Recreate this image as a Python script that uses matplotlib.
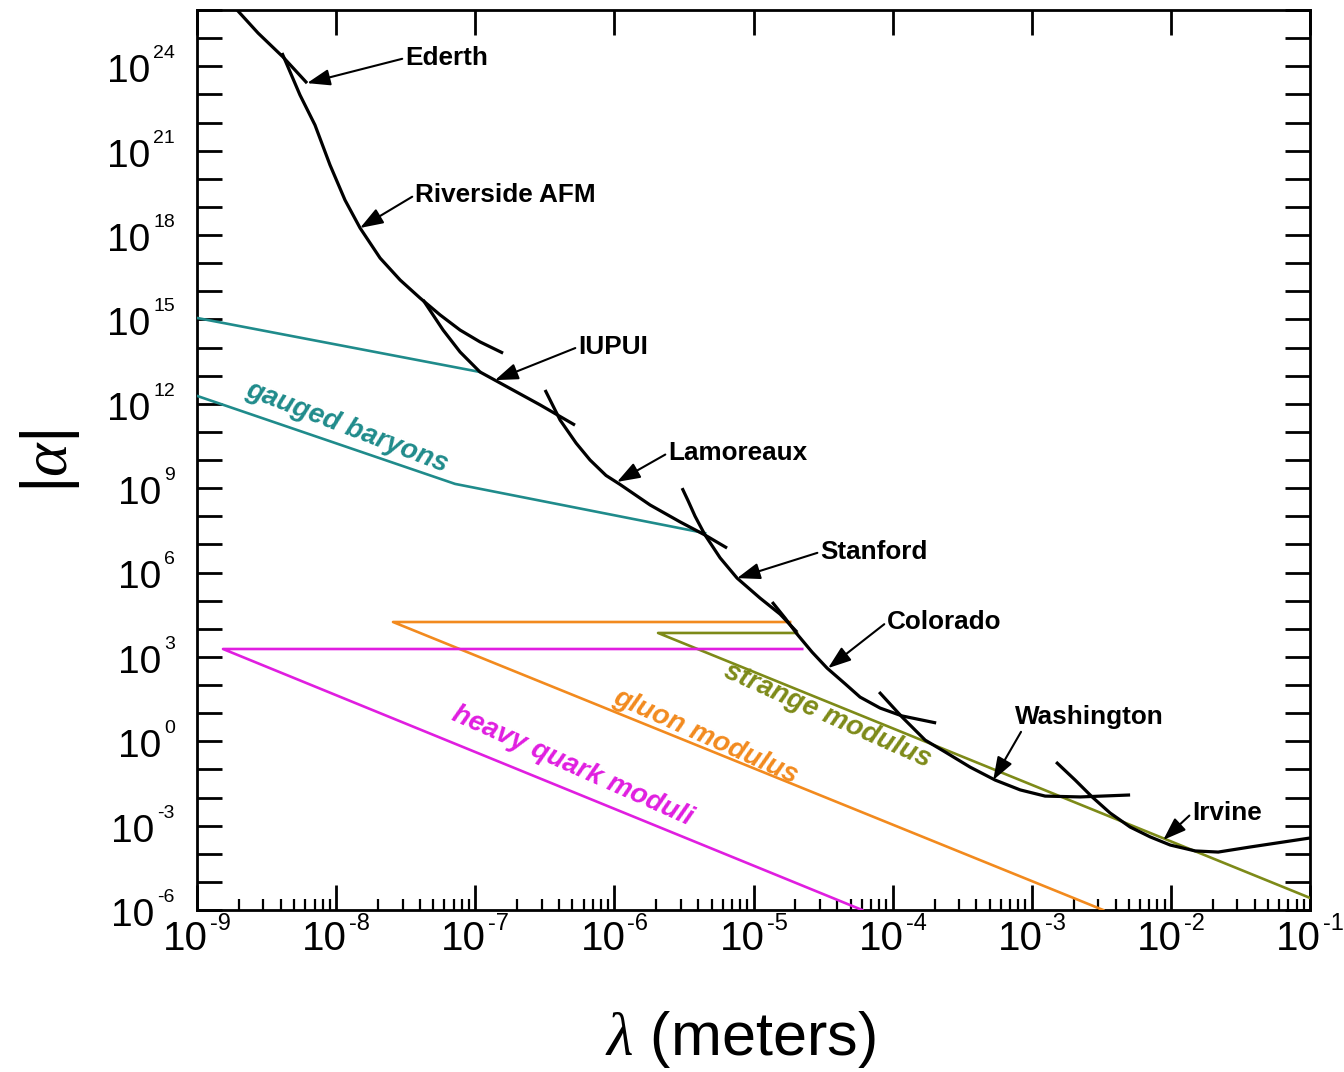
import numpy as np
import matplotlib
matplotlib.use("Agg")
import matplotlib.pyplot as plt
from matplotlib.ticker import LogLocator, NullFormatter
from matplotlib.transforms import offset_copy

plt.rcParams['font.family'] = ['Liberation Sans', 'DejaVu Sans']
plt.rcParams['mathtext.fontset'] = 'custom'
plt.rcParams['mathtext.rm'] = 'Liberation Sans'
plt.rcParams['mathtext.it'] = 'Liberation Serif:italic'
plt.rcParams['mathtext.bf'] = 'Liberation Sans:bold'

# ---------------- data (log10 of lambda [m], log10 of |alpha|) ----------------
ederth_lx = [-8.712, -8.561, -8.382, -8.209]
ederth_ly = [26.0, 25.18, 24.33, 23.40]

riverside_lx = [-8.389, -8.260, -8.152, -8.044, -7.936, -7.828, -7.684, -7.540, -7.397, -7.253, -7.109, -6.966, -6.800]
riverside_ly = [24.47, 22.98, 21.91, 20.49, 19.24, 18.25, 17.18, 16.40, 15.76, 15.16, 14.62, 14.20, 13.80]

iupui_lx = [-7.375, -7.231, -7.109, -6.966, -6.822, -6.534, -6.283]
iupui_ly = [15.69, 14.62, 13.84, 13.13, 12.74, 11.96, 11.24]

lamoreaux_lx = [-6.498, -6.390, -6.275, -6.175, -6.060, -5.959, -5.743, -5.528, -5.348, -5.190]
lamoreaux_ly = [12.49, 11.42, 10.60, 10.00, 9.45, 9.13, 8.40, 7.80, 7.33, 6.87]

stanford_lx = [-5.513, -5.470, -5.420, -5.348, -5.240, -5.118, -4.953, -4.809, -4.687]
stanford_ly = [9.00, 8.55, 8.00, 7.33, 6.52, 5.80, 5.09, 4.52, 3.88]

colorado_lx = [-4.866, -4.773, -4.687, -4.579, -4.471, -4.341, -4.234, -4.090, -3.932, -3.687]
colorado_ly = [4.95, 4.38, 3.81, 3.17, 2.60, 2.04, 1.57, 1.18, 0.90, 0.65]

washington_lx = [-4.097, -3.932, -3.766, -3.623, -3.443, -3.263, -3.083, -2.904, -2.652, -2.293]
washington_ly = [1.75, 0.86, 0.04, -0.38, -0.92, -1.38, -1.73, -1.95, -1.98, -1.91]

irvine_lx = [-2.825, -2.688, -2.566, -2.437, -2.293, -2.149, -2.005, -1.825, -1.660, -1.430, -1.0]
irvine_ly = [-0.74, -1.38, -1.98, -2.55, -3.05, -3.40, -3.69, -3.90, -3.94, -3.76, -3.44]

baryon_upper_lx = [-9.0, -6.966]
baryon_upper_ly = [15.05, 13.13]
baryon_lower_lx = [-9.0, -7.145, -5.348]
baryon_lower_ly = [12.28, 9.15, 7.40]

gluon_lx = [-4.737, -7.591, -2.487]
gluon_ly = [4.24, 4.24, -6.0]

strange_lx = [-4.687, -5.686, -1.0]
strange_ly = [3.85, 3.85, -5.57]

heavy_lx = [-4.650, -8.813, -4.219]
heavy_ly = [3.28, 3.28, -6.0]

annot_labels = ["Ederth", "Riverside AFM", "IUPUI", "Lamoreaux", "Stanford", "Colorado", "Washington", "Irvine"]
annot_text_lx = [-7.505, -7.433, -6.261, -5.614, -4.521, -4.040, -3.119, -1.847]
annot_text_ly = [24.29, 19.42, 14.02, 10.25, 6.73, 4.24, 0.86, -2.55]
annot_tip_lx = [-8.209, -7.828, -6.858, -5.981, -5.118, -4.464, -3.277, -2.055]
annot_tip_ly = [23.40, 18.25, 12.84, 9.22, 5.80, 2.60, -1.38, -3.51]

x_tick_exps = [-9, -8, -7, -6, -5, -4, -3, -2, -1]
y_tick_exps = [24, 21, 18, 15, 12, 9, 6, 3, 0, -3, -6]

BLACK = '#000000'
TEAL = '#1f8b8b'
ORANGE = '#f28a1e'
OLIVE = '#7d8a18'
MAGENTA = '#e01ee0'

def p(v):
    return 10.0 ** np.asarray(v, dtype=float)

fig = plt.figure(figsize=(13.44, 10.72), dpi=100)
ax = fig.add_axes([197/1344, 1 - 910/1072, (1310-197)/1344, (910-10)/1072])
ax.set_xscale('log')
ax.set_yscale('log')
ax.set_xlim(1e-9, 1e-1)
ax.set_ylim(1e-6, 1e26)

lw_b = 2.3
for lx, ly in [(ederth_lx, ederth_ly), (riverside_lx, riverside_ly), (iupui_lx, iupui_ly),
               (lamoreaux_lx, lamoreaux_ly), (stanford_lx, stanford_ly), (colorado_lx, colorado_ly),
               (washington_lx, washington_ly), (irvine_lx, irvine_ly)]:
    ax.plot(p(lx), p(ly), color=BLACK, lw=lw_b, solid_capstyle='butt', solid_joinstyle='round', zorder=4)

ax.plot(p(baryon_upper_lx), p(baryon_upper_ly), color=TEAL, lw=1.9, zorder=3)
ax.plot(p(baryon_lower_lx), p(baryon_lower_ly), color=TEAL, lw=1.9, zorder=3)
ax.plot(p(gluon_lx), p(gluon_ly), color=ORANGE, lw=1.9, zorder=3)
ax.plot(p(strange_lx), p(strange_ly), color=OLIVE, lw=1.9, zorder=3)
ax.plot(p(heavy_lx), p(heavy_ly), color=MAGENTA, lw=1.9, zorder=3)

lab_kw = dict(fontsize=20, fontweight='bold', fontstyle='italic', ha='center', va='center',
              rotation_mode='anchor', zorder=5)
ax.text(p(-7.922), p(11.17), 'gauged baryons', color=TEAL, rotation=-21, **lab_kw)
ax.text(p(-6.304), p(-0.88), 'heavy quark moduli', color=MAGENTA, rotation=-24, **lab_kw)
ax.text(p(-5.348), p(0.15), 'gluon modulus', color=ORANGE, rotation=-24, **lab_kw)
ax.text(p(-4.471), p(0.90), 'strange modulus', color=OLIVE, rotation=-24, **lab_kw)

for i, lab in enumerate(annot_labels):
    rel = (0.05, 0.0) if lab == "Washington" else (0.0, 0.5)
    ax.annotate(lab, xy=(p(annot_tip_lx[i]), p(annot_tip_ly[i])),
                xytext=(p(annot_text_lx[i]), p(annot_text_ly[i])),
                fontsize=18.8, fontweight='bold', ha='left', va='center', zorder=6,
                arrowprops=dict(arrowstyle='-|>,head_length=0.7,head_width=0.25',
                                color='black', lw=1.5, shrinkA=0, shrinkB=0,
                                mutation_scale=20, relpos=rel))

for s in ax.spines.values():
    s.set_linewidth(2.0)

ax.yaxis.set_major_locator(LogLocator(base=10, subs=(1.0,), numticks=60))
ax.yaxis.set_minor_locator(LogLocator(base=10, subs=(), numticks=60))
ax.xaxis.set_major_locator(LogLocator(base=10, subs=(1.0,), numticks=20))
ax.xaxis.set_minor_locator(LogLocator(base=10, subs=np.arange(2, 10), numticks=20))
for a in (ax.xaxis, ax.yaxis):
    a.set_major_formatter(NullFormatter())
    a.set_minor_formatter(NullFormatter())

ax.tick_params(axis='both', which='major', direction='in', length=18, width=2.0)
ax.tick_params(axis='x', which='minor', direction='in', length=8, width=1.6, top=False, bottom=True)
ax.tick_params(axis='x', which='major', top=True, bottom=True)
ax.tick_params(axis='y', which='major', left=True, right=True)
ax.tick_params(axis='y', which='minor', left=False, right=False)

# ---- manual tick labels: "10" plus small superscript ----
renderer = fig.canvas.get_renderer()
PT = 72.0 / fig.dpi  # points per pixel

def text_width_px(s, size, family):
    t = fig.text(0, 0, s, fontsize=size, family=family)
    w = t.get_window_extent(renderer).width
    t.remove()
    return w

x_fam = ['Liberation Sans', 'DejaVu Sans']
y_fam = ['Liberation Sans', 'DejaVu Sans']
xb, xs = 29, 17
yb, ys = 28, 14

xtr = ax.get_xaxis_transform()
for e in x_tick_exps:
    sup = '%d' % e
    w10 = text_width_px('10', xb, x_fam)
    wsup = text_width_px(sup, xs, x_fam)
    W = w10 + 2 + wsup
    x0 = -W / 2
    tr1 = offset_copy(xtr, fig=fig, x=x0 * PT, y=-40 * PT, units='points')
    ax.text(10.0 ** e, 0, '10', transform=tr1, fontsize=xb, family=x_fam, ha='left', va='baseline', clip_on=False)
    tr2 = offset_copy(xtr, fig=fig, x=(x0 + w10 + 2) * PT, y=-20 * PT, units='points')
    ax.text(10.0 ** e, 0, sup, transform=tr2, fontsize=xs, family=x_fam, ha='left', va='baseline', clip_on=False)

ytr = ax.get_yaxis_transform()
for e in y_tick_exps:
    sup = '%d' % e
    wsup = text_width_px(sup, ys, y_fam)
    right = -22
    tr2 = offset_copy(ytr, fig=fig, x=right * PT, y=8 * PT, units='points')
    ax.text(0, 10.0 ** e, sup, transform=tr2, fontsize=ys, family=y_fam, ha='right', va='baseline', clip_on=False)
    tr1 = offset_copy(ytr, fig=fig, x=(right - wsup - 3) * PT, y=-16 * PT, units='points')
    ax.text(0, 10.0 ** e, '10', transform=tr1, fontsize=yb, family=y_fam, ha='right', va='baseline', clip_on=False)

fig.text(50/1344, 1 - 462/1072, r'$|\alpha|$', fontsize=46, rotation=90, ha='center', va='center')
fig.text(740/1344, 1 - 1040/1072, r'$\lambda$ (meters)', fontsize=44, ha='center', va='center')

fig.savefig('out.png', dpi=100, facecolor='white')
